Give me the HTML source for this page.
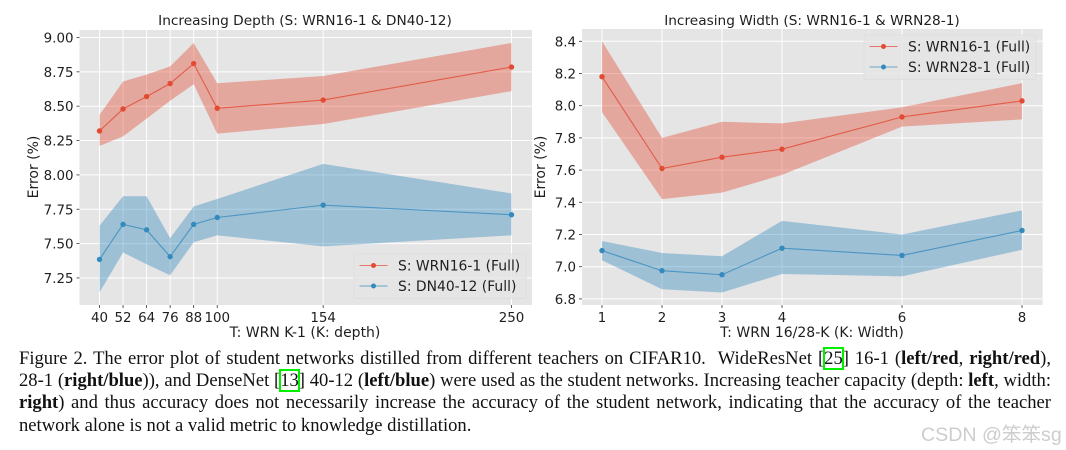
<!DOCTYPE html>
<html lang="en">
<head>
<meta charset="utf-8">
<title>Error plot of student networks</title>
<style>
html,body{margin:0;padding:0;background:#fff;}
#page{position:relative;width:1066px;height:450px;overflow:hidden;background:#fff;}
#charts{position:absolute;left:0;top:0;filter:blur(.35px);}
#charts text{font-family:"DejaVu Sans",sans-serif;fill:#1f1f1f;}
#caption{position:absolute;left:19px;top:347.5px;width:1032px;font-family:"Liberation Serif",serif;font-size:18.6px;line-height:22.4px;color:#111;filter:blur(.3px);}
#caption .ln{display:block;text-align:justify;text-align-last:justify;white-space:normal;}
#caption .ln.last{text-align-last:left;}
.cite{outline:2px solid #00f000;outline-offset:-1px;}
#watermark{position:absolute;left:921px;top:418px;font-family:"Liberation Sans","Noto Sans CJK SC",sans-serif;font-size:19.6px;color:#cdcdcd;white-space:nowrap;filter:blur(.3px);}
</style>
</head>
<body>
<div id="page">
<svg id="charts" width="1066" height="345" viewBox="0 0 1066 345" xmlns="http://www.w3.org/2000/svg"></svg>
<div id="caption">
<span class="ln">Figure 2. The error plot of student networks distilled from different teachers on CIFAR10. &nbsp;WideResNet [<span class="cite">25</span>] 16-1 (<b>left/red</b>, <b>right/red</b>),</span>
<span class="ln">28-1 (<b>right/blue</b>)), and DenseNet [<span class="cite">13</span>] 40-12 (<b>left/blue</b>) were used as the student networks. Increasing teacher capacity (depth: <b>left</b>, width:</span>
<span class="ln"><b>right</b>) and thus accuracy does not necessarily increase the accuracy of the student network, indicating that the accuracy of the teacher</span>
<span class="ln last">network alone is not a valid metric to knowledge distillation.</span>
</div>
<div id="watermark">CSDN @笨笨sg</div>
</div>
<script>
const depthCategories = [40, 52, 64, 76, 88, 100, 154, 250];
const depthYTicks = [7.25, 7.5, 7.75, 8, 8.25, 8.5, 8.75, 9];
const depthRedMean = [8.32, 8.48, 8.57, 8.665, 8.81, 8.485, 8.545, 8.785];
const depthRedUpper = [8.436, 8.68, 8.73, 8.79, 8.96, 8.667, 8.72, 8.96];
const depthRedLower = [8.21, 8.28, 8.41, 8.54, 8.66, 8.30, 8.37, 8.61];
const depthBlueMean = [7.385, 7.64, 7.60, 7.405, 7.64, 7.69, 7.78, 7.71];
const depthBlueUpper = [7.63, 7.845, 7.845, 7.54, 7.77, 7.825, 8.08, 7.865];
const depthBlueLower = [7.145, 7.435, 7.35, 7.27, 7.51, 7.56, 7.48, 7.56];

const widthCategories = [1, 2, 3, 4, 6, 8];
const widthYTicks = [6.8, 7, 7.2, 7.4, 7.6, 7.8, 8, 8.2, 8.4];
const widthRedMean = [8.18, 7.61, 7.68, 7.73, 7.93, 8.03];
const widthRedUpper = [8.40, 7.80, 7.90, 7.89, 7.99, 8.14];
const widthRedLower = [7.96, 7.42, 7.46, 7.57, 7.87, 7.915];
const widthBlueMean = [7.10, 6.975, 6.95, 7.115, 7.07, 7.225];
const widthBlueUpper = [7.16, 7.085, 7.065, 7.285, 7.20, 7.35];
const widthBlueLower = [7.04, 6.86, 6.84, 6.955, 6.94, 7.105];

const RED = '#E24A33';
const BLUE = '#348ABD';
const NS = 'http://www.w3.org/2000/svg';
const svg = document.getElementById('charts');

function make(parent, tag, attrs, text) {
  const el = document.createElementNS(NS, tag);
  for (const k in attrs) el.setAttribute(k, attrs[k]);
  if (text !== undefined) el.textContent = text;
  parent.appendChild(el);
  return el;
}

function drawSeries(g, name, color, cats, mean, upper, lower, x, y) {
  const top = cats.map((c, i) => x(c) + ',' + y(upper[i]));
  const bottom = cats.map((c, i) => x(c) + ',' + y(lower[i])).reverse();
  const band = make(g, 'polygon', {points: top.concat(bottom).join(' '), fill: color, 'fill-opacity': 0.4});
  
  
  const line = make(g, 'polyline', {points: cats.map((c, i) => x(c) + ',' + y(mean[i])).join(' '), fill: 'none', stroke: color, 'stroke-width': 1.1, 'stroke-opacity': 0.8});
  
  
  cats.forEach((c, i) => {
    const pt = make(g, 'circle', {cx: x(c), cy: y(mean[i]), r: 2.7, fill: color});
    
    
  });
}

function drawChart(cfg) {
  const g = make(svg, 'g', {});
  
  
  const plot = make(g, 'rect', {x: cfg.left, y: cfg.top, width: cfg.right - cfg.left, height: cfg.bottom - cfg.top, fill: '#E5E5E5'});
  
  

  cfg.yTicks.forEach(v => {
    const py = cfg.y(v);
    const grid = make(g, 'line', {x1: cfg.left, x2: cfg.right, y1: py, y2: py, stroke: '#fff', 'stroke-width': 1});
    
    
    const tick = make(g, 'line', {x1: cfg.left - 3, x2: cfg.left, y1: py, y2: py, stroke: '#333', 'stroke-width': 0.8});
    
    
    const label = make(g, 'text', {x: cfg.left - 6, y: py + 5, 'text-anchor': 'end', 'font-size': 13.4}, v.toFixed(cfg.yDigits));
    
    
  });
  cfg.cats.forEach(c => {
    const px = cfg.x(c);
    const grid = make(g, 'line', {x1: px, x2: px, y1: cfg.top, y2: cfg.bottom, stroke: '#fff', 'stroke-width': 1});
    
    
    const tick = make(g, 'line', {x1: px, x2: px, y1: cfg.bottom, y2: cfg.bottom + 3, stroke: '#333', 'stroke-width': 0.8});
    
    
    const label = make(g, 'text', {x: px, y: cfg.bottom + 17, 'text-anchor': 'middle', 'font-size': 13.4}, String(c));
    
    
  });

  cfg.series.forEach(s => drawSeries(g, s.name, s.color, cfg.cats, s.mean, s.upper, s.lower, cfg.x, cfg.y));

  const title = make(g, 'text', {x: cfg.titleX, y: 25, 'text-anchor': 'middle', 'font-size': 13.7}, cfg.title);
  
  
  const xTitle = make(g, 'text', {x: cfg.titleX, y: 337, 'text-anchor': 'middle', 'font-size': 14}, cfg.xTitle);
  
  
  const yTitle = make(g, 'text', {x: 0, y: 0, 'text-anchor': 'middle', 'font-size': 14, transform: 'translate(' + cfg.yTitleX + ',167) rotate(-90)'}, 'Error (%)');
  
  

  const lg = make(g, 'g', {});
  
  
  const box = make(lg, 'rect', {x: cfg.legendX, y: cfg.legendY, width: 172, height: 44.5, rx: 2, fill: '#E5E5E5', 'fill-opacity': 0.8, stroke: '#dcdcdc', 'stroke-width': 0.8});
  
  
  cfg.series.forEach((s, i) => {
    const ly = cfg.legendY + 11.5 + i * 20.5;
    const entry = make(lg, 'g', {});
    
    
    make(entry, 'line', {x1: cfg.legendX + 5.5, x2: cfg.legendX + 33.5, y1: ly, y2: ly, stroke: s.color, 'stroke-width': 1.1, 'stroke-opacity': 0.7});
    make(entry, 'circle', {cx: cfg.legendX + 19.5, cy: ly, r: 2.5, fill: s.color});
    make(entry, 'text', {x: cfg.legendX + 44, y: ly + 5, 'font-size': 13.9}, s.label);
  });
}

drawChart({
  name: 'depth-chart', title: 'Increasing Depth (S: WRN16-1 & DN40-12)', xTitle: 'T: WRN K-1 (K: depth)',
  left: 79.5, right: 532, top: 30, bottom: 305, titleX: 305, yTitleX: 38, yDigits: 2,
  legendX: 354, legendY: 254,
  cats: depthCategories, yTicks: depthYTicks,
  x: v => 99.5 + (v - 40) * 1.962,
  y: v => 37.5 + (9 - v) * 137.4,
  series: [
    {name: 'wrn16-1', label: 'S: WRN16-1 (Full)', color: RED, mean: depthRedMean, upper: depthRedUpper, lower: depthRedLower},
    {name: 'dn40-12', label: 'S: DN40-12 (Full)', color: BLUE, mean: depthBlueMean, upper: depthBlueUpper, lower: depthBlueLower}
  ]
});

drawChart({
  name: 'width-chart', title: 'Increasing Width (S: WRN16-1 & WRN28-1)', xTitle: 'T: WRN 16/28-K (K: Width)',
  left: 582, right: 1042.7, top: 29, bottom: 305, titleX: 812, yTitleX: 545, yDigits: 1,
  legendX: 864, legendY: 35,
  cats: widthCategories, yTicks: widthYTicks,
  x: v => 602 + (v - 1) * 60,
  y: v => 41.3 + (8.4 - v) * 161,
  series: [
    {name: 'wrn16-1', label: 'S: WRN16-1 (Full)', color: RED, mean: widthRedMean, upper: widthRedUpper, lower: widthRedLower},
    {name: 'wrn28-1', label: 'S: WRN28-1 (Full)', color: BLUE, mean: widthBlueMean, upper: widthBlueUpper, lower: widthBlueLower}
  ]
});
</script>
</body>
</html>
